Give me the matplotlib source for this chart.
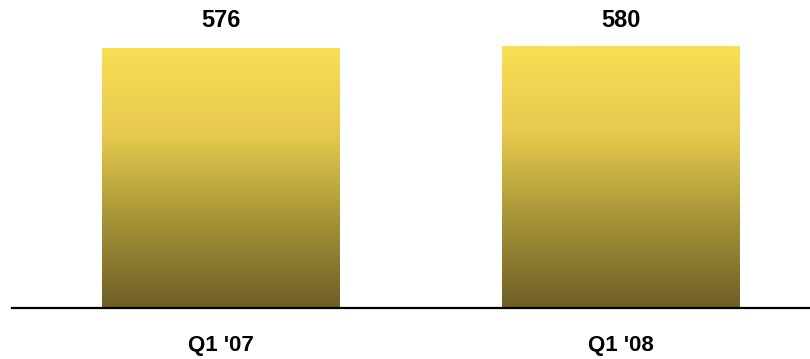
import numpy as np
import matplotlib.pyplot as plt
from matplotlib.colors import LinearSegmentedColormap

categories = ["Q1 '07", "Q1 '08"]
values = [576, 580]

fig = plt.figure(figsize=(8.10, 3.59), dpi=100)
# axes placed in pixel terms: x 12..810, y 0 at 307 px from top
ax = fig.add_axes([12 / 810, (359 - 307) / 359, 798 / 810, 307 / 359])
ax.set_xlim(-0.5206, 1.472)
ax.set_ylim(0, 683)

cmap = LinearSegmentedColormap.from_list(
    "gold", ["#6f5f27", "#a59337", "#e6c94e", "#f9de56"])
grad = np.linspace(0, 1, 256).reshape(-1, 1)

x = np.arange(len(categories))
width = 0.594
bars = ax.bar(x, values, width=width, color="none", edgecolor="none")
for b, v in zip(bars, values):
    x0, w, h = b.get_x(), b.get_width(), b.get_height()
    im = ax.imshow(grad, cmap=cmap, origin="lower", aspect="auto",
                   extent=[x0, x0 + w, 0, h], zorder=1)
    im.set_clip_path(b)
    ax.text(b.get_x() + w / 2, 637, str(v), ha="center", va="center",
            fontsize=17, fontweight="bold", family="Liberation Sans")

ax.axhline(-2, color="black", lw=1.6, zorder=3, clip_on=False)
for xi, c in zip(x, categories):
    ax.text(xi, -85, c, ha="center", va="center", fontsize=16,
            fontweight="bold", family="Liberation Sans", clip_on=False)

ax.set_xticks([])
ax.set_yticks([])
for s in ax.spines.values():
    s.set_visible(False)

fig.savefig("out.png", dpi=100)
